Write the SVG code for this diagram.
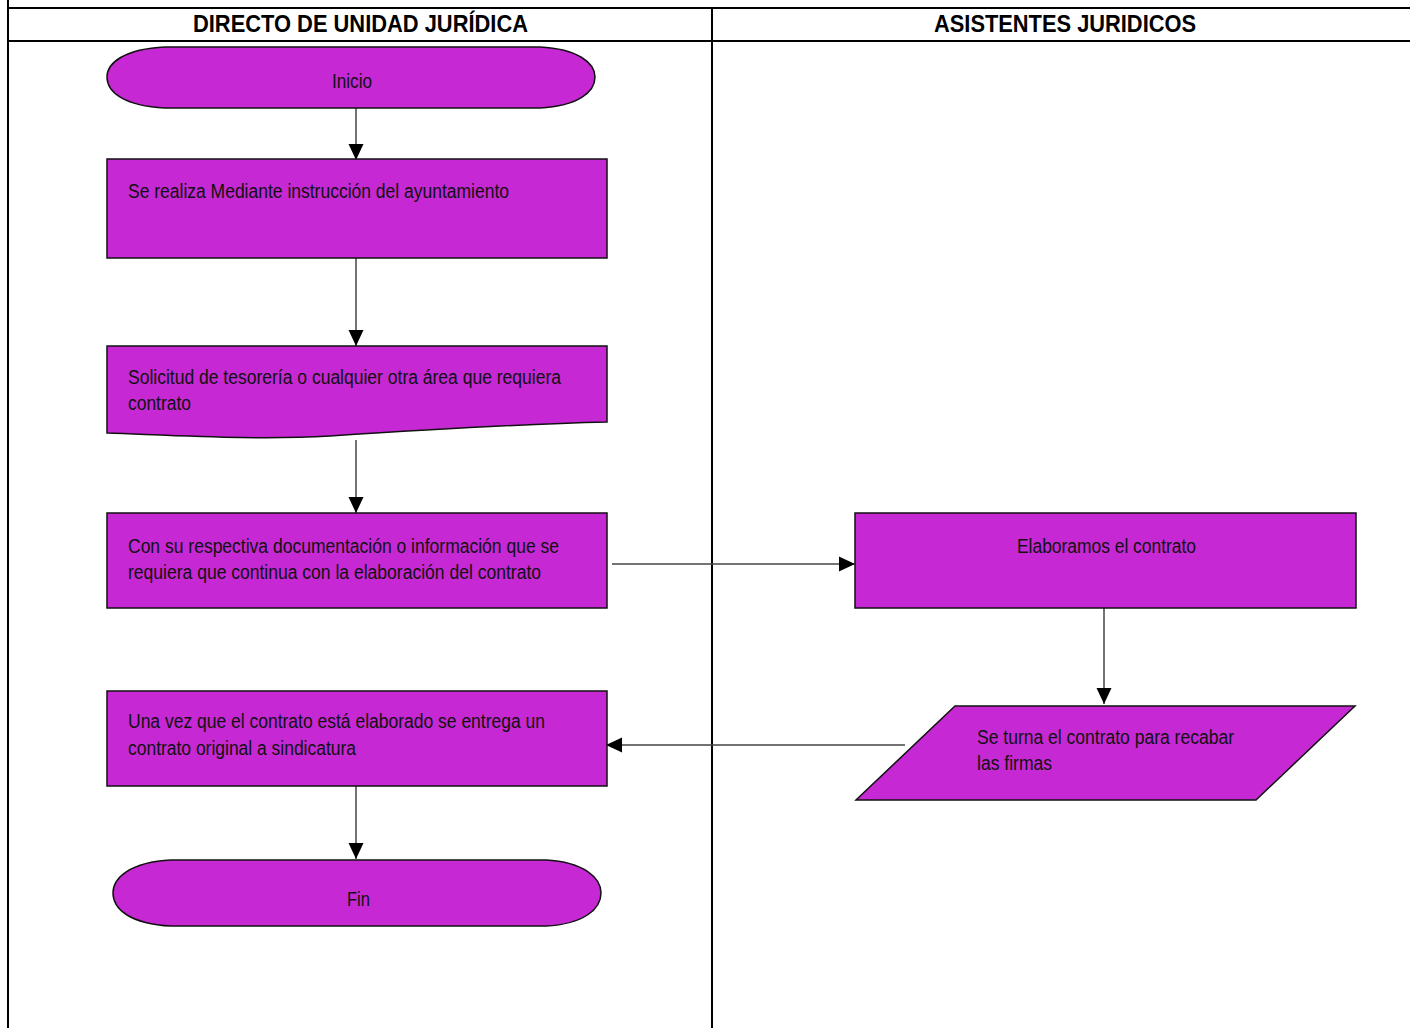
<svg xmlns="http://www.w3.org/2000/svg" width="1410" height="1028" viewBox="0 0 1410 1028">
<defs>
<style>
.shape{fill:#C628D4;stroke:#111;stroke-width:1.5}
.lbl{font-family:"Liberation Sans",Arial,sans-serif;font-size:19.5px;fill:#111}
.hdr{font-family:"Liberation Sans",Arial,sans-serif;font-size:23px;font-weight:bold;fill:#000}
.grid{stroke:#000;stroke-width:2;fill:none}
.conn{stroke:#444;stroke-width:1.5;fill:none}
</style>
<marker id="ahb" viewBox="0 0 16 16" refX="16" refY="8" markerWidth="16" markerHeight="16" markerUnits="userSpaceOnUse" orient="auto">
<path d="M0,0.5 L16,8 L0,15.5 Z" fill="#000"/>
</marker>
</defs>
<rect width="1410" height="1028" fill="#fff"/>
<g id="grid">
<line class="grid" x1="8" y1="0" x2="8" y2="1028"/>
<line class="grid" x1="8" y1="8" x2="1410" y2="8"/>
<line class="grid" x1="8" y1="41" x2="1410" y2="41"/>
<line class="grid" x1="712" y1="8" x2="712" y2="1028"/>
<text class="hdr" x="193" y="32" textLength="335" lengthAdjust="spacingAndGlyphs">DIRECTO DE UNIDAD JURÍDICA</text>
<text class="hdr" x="934" y="32" textLength="262" lengthAdjust="spacingAndGlyphs">ASISTENTES JURIDICOS</text>
</g>
<g id="connectors">
<line class="conn" x1="356" y1="108" x2="356" y2="160" marker-end="url(#ahb)"/>
<line class="conn" x1="356" y1="258" x2="356" y2="346" marker-end="url(#ahb)"/>
<line class="conn" x1="356" y1="440" x2="356" y2="513" marker-end="url(#ahb)"/>
<line class="conn" x1="612" y1="564" x2="855" y2="564" marker-end="url(#ahb)"/>
<line class="conn" x1="1104" y1="608" x2="1104" y2="704" marker-end="url(#ahb)"/>
<line class="conn" x1="905" y1="745" x2="606" y2="745" marker-end="url(#ahb)"/>
<line class="conn" x1="356" y1="786" x2="356" y2="859" marker-end="url(#ahb)"/>
</g>
<g id="inicio">
<path class="shape" d="M165,47 H540 C578,49 595,63 595,77 C595,92 578,106 540,108 H165 C124,106 107,92 107,77 C107,63 124,49 165,47 Z"/>
<text class="lbl" x="332" y="88" textLength="40" lengthAdjust="spacingAndGlyphs">Inicio</text>
</g>
<g id="paso1">
<rect class="shape" x="107" y="159" width="500" height="99"/>
<text class="lbl" x="128" y="198" textLength="381" lengthAdjust="spacingAndGlyphs">Se realiza Mediante instrucción del ayuntamiento</text>
</g>
<g id="solicitud">
<path class="shape" d="M107,346 H607 V422 C520,424 420,430 330,436 C260,440 190,436 107,433 Z"/>
<text class="lbl" x="128" y="384" textLength="433" lengthAdjust="spacingAndGlyphs">Solicitud de tesorería o cualquier otra área que requiera</text>
<text class="lbl" x="128" y="410" textLength="63" lengthAdjust="spacingAndGlyphs">contrato</text>
</g>
<g id="documentacion">
<rect class="shape" x="107" y="513" width="500" height="95"/>
<text class="lbl" x="128" y="553" textLength="431" lengthAdjust="spacingAndGlyphs">Con su respectiva documentación o información que se</text>
<text class="lbl" x="128" y="579" textLength="413" lengthAdjust="spacingAndGlyphs">requiera que continua con la elaboración del contrato</text>
</g>
<g id="elaboramos">
<rect class="shape" x="855" y="513" width="501" height="95"/>
<text class="lbl" x="1017" y="553" textLength="179" lengthAdjust="spacingAndGlyphs">Elaboramos el contrato</text>
</g>
<g id="turna">
<path class="shape" d="M955,706 H1355 L1256,800 H856 Z"/>
<text class="lbl" x="977" y="744" textLength="257" lengthAdjust="spacingAndGlyphs">Se turna el contrato para recabar</text>
<text class="lbl" x="977" y="770" textLength="75" lengthAdjust="spacingAndGlyphs">las firmas</text>
</g>
<g id="entrega">
<rect class="shape" x="107" y="691" width="500" height="95"/>
<text class="lbl" x="128" y="728" textLength="417" lengthAdjust="spacingAndGlyphs">Una vez que el contrato está elaborado se entrega un</text>
<text class="lbl" x="128" y="755" textLength="228" lengthAdjust="spacingAndGlyphs">contrato original a sindicatura</text>
</g>
<g id="fin">
<path class="shape" d="M171,860 H546 C584,862 601,878 601,893 C601,909 584,924 546,926 H171 C130,924 113,909 113,893 C113,878 130,862 171,860 Z"/>
<text class="lbl" x="347" y="906" textLength="23" lengthAdjust="spacingAndGlyphs">Fin</text>
</g>
</svg>
